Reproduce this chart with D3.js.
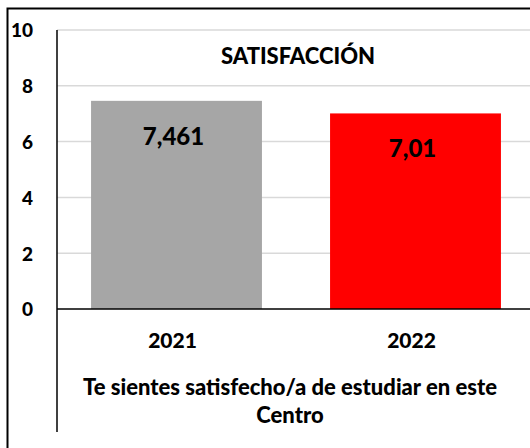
<!DOCTYPE html>
<html lang="es">
  <head>
    <meta charset="UTF-8">
    <script src="https://d3js.org/d3.v7.min.js"></script>
    <title>Satisfacción</title>
    <style>
      body { margin: 0; background: #fff; }
      svg text { font-family: Lato, "Open Sans", sans-serif; font-weight: 900; fill: #000; }
    </style>
    <script>
      const years = ["2021", "2022"];
      const scores = [7.461, 7.01];
      const scoreLabels = ["7,461", "7,01"];
      const barColors = ["#a6a6a6", "#ff0000"];
      const yTicks = [0, 2, 4, 6, 8, 10];
      const chartTitle = "SATISFACCIÓN";
      const axisTitle = ["Te sientes satisfecho/a de estudiar en este", "Centro"];

      document.addEventListener('DOMContentLoaded', function() {
        const width = 530;
        const height = 448;
        const left = 57;
        const right = 535;
        const top = 30;
        const bottom = 309;

        const svg = d3.select("#chart")
                      .append("svg")
                      .attr("width", width)
                      .attr("height", height);

        const xScale = d3.scaleBand()
                         .domain(years)
                         .range([left, right])
                         .paddingInner(0.285)
                         .paddingOuter(0.1425);

        const yScale = d3.scaleLinear()
                         .domain([0, 10])
                         .range([bottom, top]);

        // gridlines
        svg.append("g")
           .selectAll("line")
           .data(yTicks.filter(t => t > 0))
           .enter()
           .append("line")
           .attr("x1", left).attr("x2", width)
           .attr("y1", d => yScale(d)).attr("y2", d => yScale(d))
           .attr("stroke", "#d9d9d9")
           .attr("stroke-width", 1.5);

        // bars
        svg.append("g")
           .selectAll("rect")
           .data(years)
           .enter()
           .append("rect")
           .attr("x", d => xScale(d))
           .attr("y", (d, i) => yScale(scores[i]))
           .attr("width", xScale.bandwidth())
           .attr("height", (d, i) => bottom - yScale(scores[i]))
           .attr("fill", (d, i) => barColors[i]);

        // value labels
        svg.append("g")
           .selectAll("text")
           .data(years)
           .enter()
           .append("text")
           .attr("x", d => xScale(d) + xScale.bandwidth() / 2 - 3)
           .attr("y", (d, i) => yScale(scores[i]) + 44)
           .attr("text-anchor", "middle")
           .style("font-size", "24px")
           .text((d, i) => scoreLabels[i]);

        // y axis
        const yAxis = d3.axisLeft(yScale)
                        .tickValues(yTicks)
                        .tickSize(0)
                        .tickPadding(24)
                        .tickFormat(d => d);

        const yAxisG = svg.append("g")
                          .attr("transform", "translate(" + left + ", 0)")
                          .call(yAxis);
        yAxisG.select(".domain").remove();
        yAxisG.selectAll("text")
              .attr("dy", "0.36em")
              .style("font-size", "19px")
              .style("font-family", null);

        // x axis
        const xAxis = d3.axisBottom(xScale).tickSize(0).tickPadding(24);
        const xAxisG = svg.append("g")
                          .attr("transform", "translate(0, " + bottom + ")")
                          .call(xAxis);
        xAxisG.select(".domain").remove();
        xAxisG.selectAll("text")
              .attr("dy", "0")
              .attr("y", 39)
              .attr("dx", -4)
              .style("font-size", "21px")
              .style("font-family", null);

        svg.append("line")
           .attr("x1", left).attr("x2", width)
           .attr("y1", bottom).attr("y2", bottom)
           .attr("stroke", "#000")
           .attr("stroke-width", 1.5);

        svg.append("line")
           .attr("x1", left).attr("x2", left)
           .attr("y1", top).attr("y2", 432)
           .attr("stroke", "#000")
           .attr("stroke-width", 1.5);

        // chart title
        svg.append("text")
           .attr("x", 298)
           .attr("y", 64)
           .attr("text-anchor", "middle")
           .style("font-size", "22px")
           .text(chartTitle);

        // axis title
        svg.append("g")
           .selectAll("text")
           .data(axisTitle)
           .enter()
           .append("text")
           .attr("x", 290)
           .attr("y", (d, i) => 395 + i * 28)
           .attr("text-anchor", "middle")
           .style("font-size", "22px")
           .text(d => d);

        // outer frame (top and left edges are visible)
        svg.append("path")
           .attr("d", "M7.5," + height + "V8.5H" + width)
           .attr("fill", "none")
           .attr("stroke", "#000")
           .attr("stroke-width", 2);
      });
    </script>
  </head>
  <body>
    <div id="chart"></div>
  </body>
</html>
